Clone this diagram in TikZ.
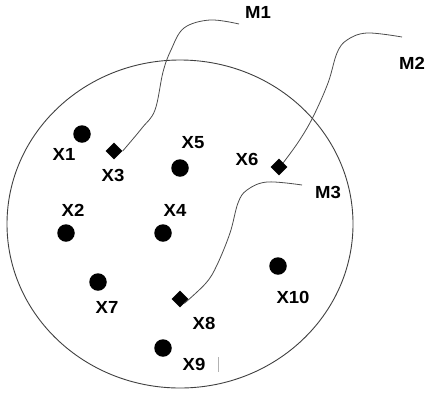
\documentclass[tikz,border=0pt]{standalone}
\usepackage{fontspec}
\setmainfont{Liberation Sans}
\usetikzlibrary{shapes.geometric}
\begin{document}
\begin{tikzpicture}[x=1pt,y=-1pt,
  dot/.style={circle,fill=black,inner sep=0pt,minimum size=17.5pt},
  dmd/.style={diamond,fill=black,inner sep=0pt,minimum size=17pt},
  lbl/.style={inner sep=0pt,font=\bfseries\fontsize{17.5}{17.5}\selectfont,xscale=1.06,transform shape},
  curve/.style={draw=black!70,line width=0.8pt}]
\useasboundingbox (0,0) rectangle (427,399);
% big circle
\draw[black!75,line width=0.9pt] (180,224) ellipse [x radius=173, y radius=164];
% dots
\node[dot] (x1) at (82,134) {};
\node[dot] (x5) at (180,168) {};
\node[dot] (x2) at (66,233) {};
\node[dot] (x4) at (163,233) {};
\node[dot] (x7) at (98,282) {};
\node[dot] (x10) at (278,266) {};
\node[dot] (x9) at (163,348) {};
% diamonds
\node[dmd] (x3) at (114,151) {};
\node[dmd] (x6) at (279,167) {};
\node[dmd] (x8) at (180,299) {};
% labels
\node[lbl] (l1) at (64,154) {X1};
\node[lbl] (l3) at (113,175) {X3};
\node[lbl] (l5) at (193,143) {X5};
\node[lbl] (l6) at (247,159) {X6};
\node[lbl] (l2) at (73,210) {X2};
\node[lbl] (l4) at (175,210) {X4};
\node[lbl] (l7) at (107,307) {X7};
\node[lbl] (l8) at (204,323) {X8};
\node[lbl] (l10) at (293,297) {X10};
\node[lbl] (l9) at (194,364) {X9};
\node[lbl] (m1) at (258,12) {M1};
\node[lbl] (m2) at (412,63) {M2};
\node[lbl] (m3) at (328,192) {M3};
% curve free ends
\coordinate (m1s) at (239,24);
\coordinate (m2s) at (402,37);
\coordinate (m3s) at (302,185);
% curves
\draw[curve] plot[smooth,tension=0.6] coordinates {(m1s) (210,20) (184,28) (171,50) (163,72) (155,110) (142,128) (x3.east)};
\draw[curve] plot[smooth,tension=0.6] coordinates {(m2s) (367,33) (347,40) (337,53) (328,83) (313,117) (299,141) (x6.north east)};
\draw[curve] plot[smooth,tension=0.6] coordinates {(m3s) (267,182) (247,190) (238,203) (230,233) (217,265) (206,283) (x8.south east)};
% small tick
\draw[black!30,line width=1pt] (218,357) -- (218,372);
\end{tikzpicture}
\end{document}
